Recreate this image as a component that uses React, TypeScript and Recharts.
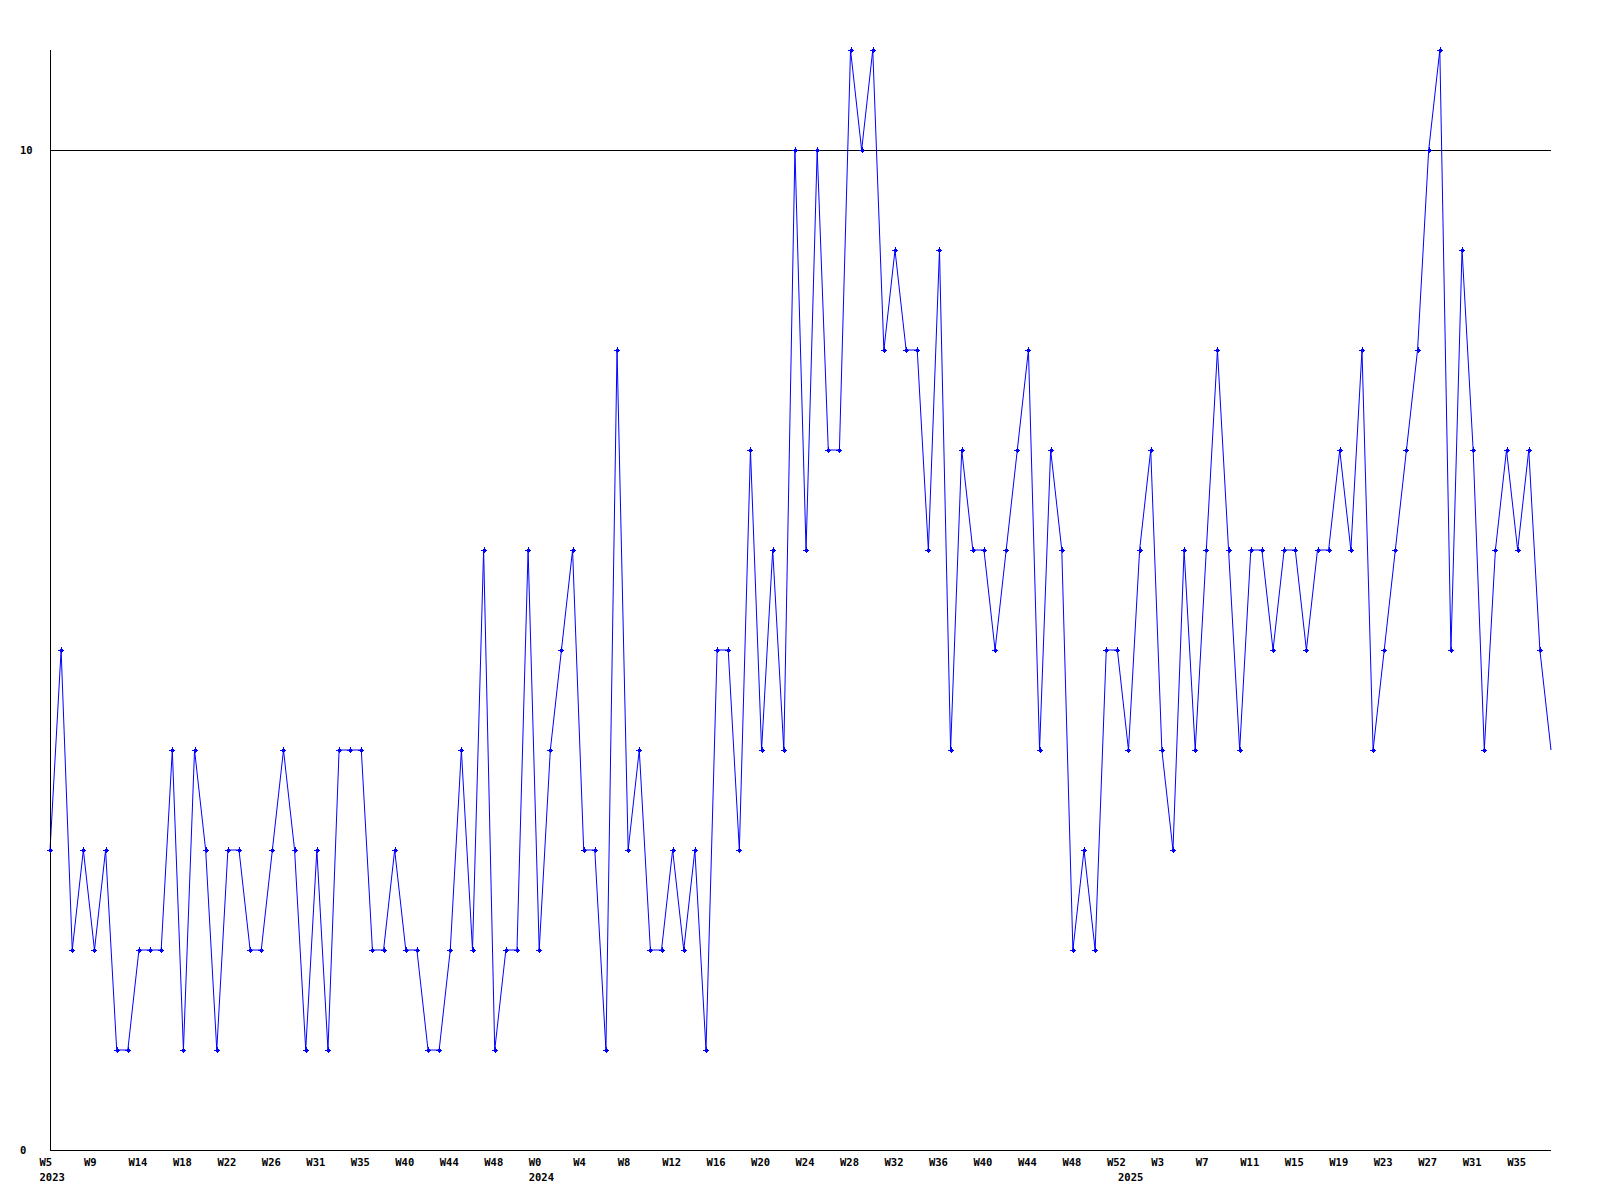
import { LineChart, Line, XAxis, YAxis, ReferenceLine } from 'recharts';

// one value per week, 2023 W5 .. 2025 W38
const values = [
  3, 5, 2, 3, 2, 3, 1, 1, 2, 2,
  2, 4, 1, 4, 3, 1, 3, 3, 2, 2,
  3, 4, 3, 1, 3, 1, 4, 4, 4, 2,
  2, 3, 2, 2, 1, 1, 2, 4, 2, 6,
  1, 2, 2, 6, 2, 4, 5, 6, 3, 3,
  1, 8, 3, 4, 2, 2, 3, 2, 3, 1,
  5, 5, 3, 7, 4, 6, 4, 10, 6, 10,
  7, 7, 11, 10, 11, 8, 9, 8, 8, 6,
  9, 4, 7, 6, 6, 5, 6, 7, 8, 4,
  7, 6, 2, 3, 2, 5, 5, 4, 6, 7,
  4, 3, 6, 4, 6, 8, 6, 4, 6, 6,
  5, 6, 6, 5, 6, 6, 7, 6, 8, 4,
  5, 6, 7, 8, 10, 11, 5, 9, 7, 4,
  6, 7, 6, 7, 5, 4,
];

const weekTicks = [
  0, 4, 8, 12, 16, 20, 24, 28, 32, 36, 40, 44, 48, 52, 56, 60, 64,
  68, 72, 76, 80, 84, 88, 92, 96, 100, 104, 108, 112, 116, 120, 124, 128, 132,
];
const weekLabels = [
  'W5', 'W9', 'W14', 'W18', 'W22', 'W26', 'W31', 'W35', 'W40', 'W44', 'W48',
  'W0', 'W4', 'W8', 'W12', 'W16', 'W20', 'W24', 'W28', 'W32', 'W36', 'W40',
  'W44', 'W48', 'W52', 'W3', 'W7', 'W11', 'W15', 'W19', 'W23', 'W27', 'W31', 'W35',
];
const yearTicks = [0, 44, 97];
const yearLabels = ['2023', '2024', '2025'];
const yTicks = [0, 10];

const data = values.map((v, i) => ({ i, v }));

const FONT = {
  fontFamily: '"DejaVu Sans Mono", monospace',
  fontWeight: 'bold' as const,
  fontSize: 10.5,
  fill: '#000',
};
const BLUE = '#0000ff';

function XTick(props: any) {
  const { x, y, payload } = props;
  const w = weekTicks.indexOf(payload.value);
  const yr = yearTicks.indexOf(payload.value);
  return (
    <g>
      {w >= 0 && (
        <text x={x - 10.5} y={y + 16} textAnchor="start" {...FONT}>
          {weekLabels[w]}
        </text>
      )}
      {yr >= 0 && (
        <text x={x - 10.5} y={y + 31} textAnchor="start" {...FONT}>
          {yearLabels[yr]}
        </text>
      )}
    </g>
  );
}

function YTick(props: any) {
  const { x, y, payload } = props;
  return (
    <text x={x - 30} y={y + 4} textAnchor="start" {...FONT}>
      {payload.value}
    </text>
  );
}

function Marker(props: any) {
  const { cx, cy, index } = props;
  if (index === values.length - 1 || cx == null) return <g key={index} />;
  const x = Math.round(cx);
  const y = Math.round(cy);
  return (
    <g key={index} shapeRendering="crispEdges">
      <rect x={x - 1.5} y={y - 1.5} width={3} height={3} fill={BLUE} />
      <rect x={x - 3} y={y - 0.5} width={6} height={1} fill={BLUE} />
      <rect x={x - 0.5} y={y - 3} width={1} height={6} fill={BLUE} />
    </g>
  );
}

export default function App() {
  const allXTicks = [...weekTicks, ...yearTicks.filter((t) => !weekTicks.includes(t))];
  return (
    <div style={{ position: 'absolute', left: 0, top: 0, width: 1600, height: 1200, background: '#fff' }}>
      <LineChart width={1600} height={1200} data={data} margin={{ top: 50, right: 49, bottom: 0, left: 0 }}>
        <XAxis
          dataKey="i"
          type="number"
          domain={[0, values.length - 1]}
          ticks={allXTicks}
          interval={0}
          height={50}
          tickSize={0}
          tickMargin={0}
          tickLine={false}
          axisLine={{ stroke: '#000', strokeWidth: 1, shapeRendering: 'crispEdges' }}
          tick={(p: any) => <XTick {...p} />}
        />
        <YAxis
          type="number"
          domain={[0, 11]}
          ticks={yTicks}
          interval={0}
          width={50}
          tickSize={0}
          tickMargin={0}
          tickLine={false}
          axisLine={{ stroke: '#000', strokeWidth: 1, shapeRendering: 'crispEdges' }}
          tick={(p: any) => <YTick {...p} />}
        />
        <ReferenceLine y={10} stroke="#000" strokeWidth={1} shapeRendering="crispEdges" />
        <Line
          type="linear"
          dataKey="v"
          stroke={BLUE}
          strokeWidth={1}
          dot={(p: any) => <Marker key={p.index} {...p} />}
          activeDot={false}
          isAnimationActive={false}
        />
      </LineChart>
    </div>
  );
}
